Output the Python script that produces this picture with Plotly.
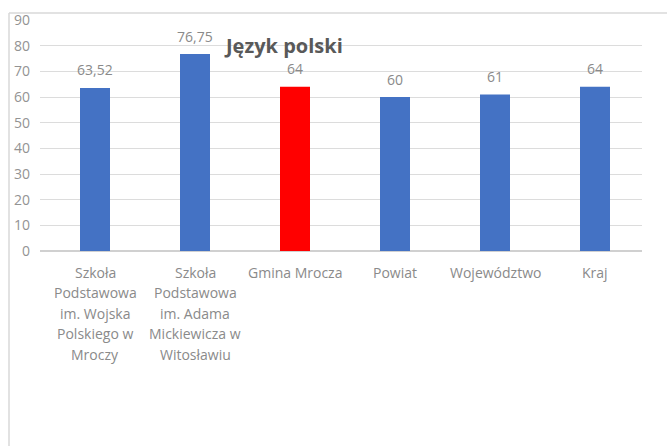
import plotly.graph_objects as go

categories = ["Szkoła Podstawowa im. Wojska Polskiego w Mroczy",
              "Szkoła Podstawowa im. Adama Mickiewicza w Witosławiu",
              "Gmina Mrocza", "Powiat", "Województwo", "Kraj"]
category_lines = [
    ["Szkoła", "Podstawowa", "im. Wojska", "Polskiego w", "Mroczy"],
    ["Szkoła", "Podstawowa", "im. Adama", "Mickiewicza w", "Witosławiu"],
    ["Gmina Mrocza"],
    ["Powiat"],
    ["Województwo"],
    ["Kraj"],
]
values = [63.52, 76.75, 64, 60, 61, 64]
value_labels = ["63,52", "76,75", "64", "60", "61", "64"]
bar_colors = ["#4472C4", "#4472C4", "#FF0000", "#4472C4", "#4472C4", "#4472C4"]
y_ticks = [0, 10, 20, 30, 40, 50, 60, 70, 80, 90]
title_text = "Język polski"

W, H = 667, 446
L, R, T, B = 40, 25, 20, 195
FONT = "Open Sans, Liberation Sans, sans-serif"
TXT = "#8a8a8a"

xs = list(range(len(categories)))

fig = go.Figure(go.Bar(
    x=xs,
    y=values,
    marker=dict(color=bar_colors, line=dict(width=0)),
    width=0.3,
    hoverinfo="skip",
))

def px_x(px):
    return (px - L) / (W - L - R)

def px_y(py):
    return (H - B - py) / (H - T - B)

annotations = [dict(
    text="<b>" + title_text + "</b>",
    xref="paper", yref="y", x=px_x(283), y=80,
    showarrow=False, xanchor="center", yanchor="middle",
    font=dict(size=20, color="#595959", family=FONT),
)]

for xi, v, lab in zip(xs, values, value_labels):
    annotations.append(dict(
        text=lab, xref="x", yref="y", x=xi, y=v,
        showarrow=False, xanchor="center", yanchor="middle", yshift=18,
        font=dict(size=14, color=TXT, family=FONT),
    ))

for xi, lines in zip(xs, category_lines):
    for li, line in enumerate(lines):
        annotations.append(dict(
            text=line, xref="x", yref="paper", x=xi, y=0,
            showarrow=False, xanchor="center", yanchor="middle",
            yshift=-(21 + li * 20.5),
            font=dict(size=14, color=TXT, family=FONT),
        ))

fig.update_layout(
    width=W, height=H,
    margin=dict(l=L, r=R, t=T, b=B, autoexpand=False),
    paper_bgcolor="white",
    plot_bgcolor="white",
    showlegend=False,
    font=dict(family=FONT, color=TXT, size=14),
    xaxis=dict(
        range=[-0.55, 5.47], showgrid=False, showline=False, ticks="",
        showticklabels=False, zeroline=False, automargin=False,
    ),
    yaxis=dict(
        range=[0, 90], tickvals=y_ticks, showgrid=True,
        gridcolor="#dcdcdc", gridwidth=1, zeroline=True, zerolinecolor="#d0d0d0",
        showline=False, ticks="", automargin=False,
        tickfont=dict(size=14, color="#939393", family=FONT),
        ticklabelstandoff=9,
    ),
    annotations=annotations,
    shapes=[
        dict(type="line", xref="paper", yref="paper",
             x0=px_x(9), x1=px_x(667), y0=px_y(13), y1=px_y(13),
             line=dict(color="#d9d9d9", width=1.5)),
        dict(type="line", xref="paper", yref="paper",
             x0=px_x(9), x1=px_x(9), y0=px_y(13), y1=px_y(446),
             line=dict(color="#d9d9d9", width=1.5)),
    ],
)

fig.write_html(
    "out.html",
    config={"displayModeBar": False},
    post_script="document.body.style.margin='0';document.body.style.overflow='hidden';",
)
